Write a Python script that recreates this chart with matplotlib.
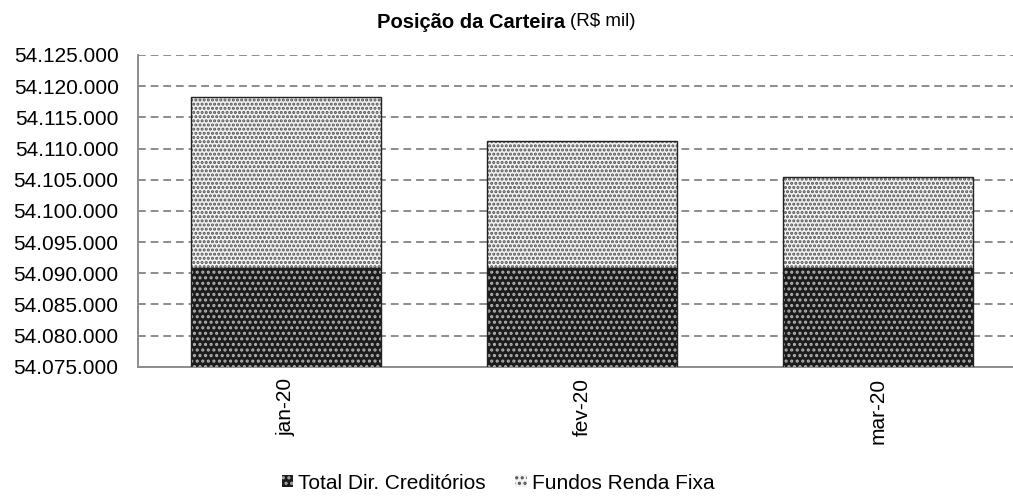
import matplotlib
matplotlib.use("Agg")
import matplotlib.pyplot as plt
from matplotlib.patches import Patch
from matplotlib.ticker import FuncFormatter, MultipleLocator

plt.rcParams["font.family"] = ["Liberation Sans", "DejaVu Sans"]

# data (R$ mil)
months = ["jan-20", "fev-20", "mar-20"]
dir_creditorios = [54090800, 54090800, 54090800]
fundos_renda_fixa = [27500, 20400, 14700]

LIGHT = dict(face="#f2f2f2", hatch="#505050", pat="....")
DARK = dict(face="#1c1c1c", hatch="#b0b0b0", pat="...")
plt.rcParams["hatch.linewidth"] = 1.5

fig = plt.figure(figsize=(10.13, 4.98), dpi=100)
ax = fig.add_axes([138 / 1013, 1 - 366.7 / 498, 888 / 1013, 311.7 / 498])

x = range(len(months))
w = 0.645
# pattern pass (hatch colour comes from edgecolor), then outline pass
ax.bar(x, dir_creditorios, w, color=DARK["face"], edgecolor=DARK["hatch"],
       hatch=DARK["pat"], linewidth=0, zorder=3)
ax.bar(x, fundos_renda_fixa, w, bottom=dir_creditorios, color=LIGHT["face"],
       edgecolor=LIGHT["hatch"], hatch=LIGHT["pat"], linewidth=0, zorder=3)
ax.bar(x, dir_creditorios, w, fill=False, edgecolor="#222222", linewidth=1.0, zorder=4)
ax.bar(x, fundos_renda_fixa, w, bottom=dir_creditorios, fill=False,
       edgecolor="#222222", linewidth=1.0, zorder=4)

ax.set_xlim(-0.5, len(months) - 0.5)
ax.set_ylim(54075000, 54125000)
ax.yaxis.set_major_locator(MultipleLocator(5000))
ax.yaxis.set_major_formatter(FuncFormatter(lambda v, _: f"{v:,.0f}".replace(",", ".")))
ax.set_xticks(list(x))
ax.set_xticklabels(months, rotation=90, va="top")

ax.grid(axis="y", color="#8c8c8c", linestyle=(0, (4, 2.5)), linewidth=1.4, zorder=0)
for s in ("top", "right"):
    ax.spines[s].set_visible(False)
for s in ("left", "bottom"):
    ax.spines[s].set_color("#8c8c8c")
    ax.spines[s].set_linewidth(1.4)
ax.tick_params(axis="y", length=0, pad=14, labelsize=15)
ax.tick_params(axis="x", length=0, pad=8, labelsize=15)

fig.text(565 / 1013, 1 - 22 / 498, "Posição da Carteira", ha="right", va="center",
         fontsize=14.5, fontweight="bold")
fig.text(570 / 1013, 1 - 22 / 498, "(R$ mil)", ha="left", va="center", fontsize=13.5)

handles = [
    Patch(facecolor=DARK["face"], edgecolor=DARK["hatch"], hatch="...", linewidth=0),
    Patch(facecolor=LIGHT["face"], edgecolor=LIGHT["hatch"], hatch="...", linewidth=0),
]
fig.legend(handles, ["Total Dir. Creditórios", "Fundos Renda Fixa"], loc="center",
           bbox_to_anchor=(498 / 1013, 1 - 483 / 498), ncol=2, frameon=False,
           fontsize=15, handlelength=0.55, handleheight=0.55, handletextpad=0.25,
           columnspacing=1.4)

fig.savefig("out.png", dpi=100)
